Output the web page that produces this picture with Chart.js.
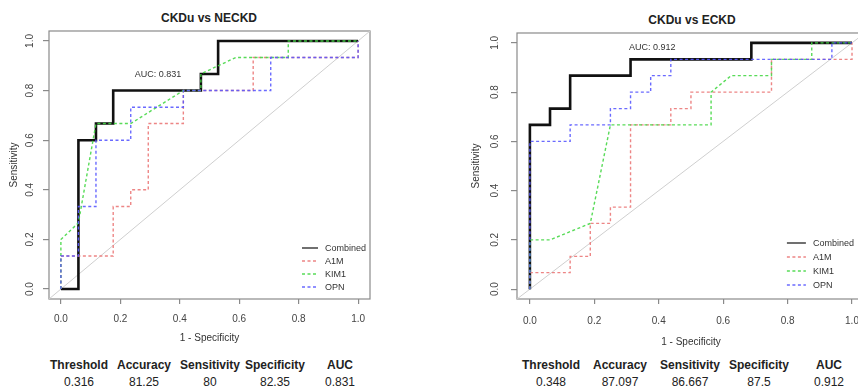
<!DOCTYPE html>
<html>
<head>
<meta charset="utf-8">
<script src="https://cdn.jsdelivr.net/npm/chart.js@4.4.0/dist/chart.umd.min.js"></script>
<style>
  html, body { margin: 0; padding: 0; background: #fff; overflow: hidden; width: 858px; height: 388px; }
  body { position: relative; font-family: "Liberation Sans", Arial, sans-serif; }
  .plot { position: absolute; top: 0; height: 350px; }
  .plot canvas { display: block; }
  .title { position: absolute; font-weight: bold; font-size: 12px; line-height: 14px; color: #222; transform: translateX(-50%); white-space: nowrap; }
  .cell { position: absolute; font-size: 12px; line-height: 14px; color: #222; transform: translateX(-50%); white-space: nowrap; }
  .cell.head { font-weight: bold; }
</style>
</head>
<body>
<div class="title" style="left:209px; top:11px;">CKDu vs NECKD</div>
<div class="title" style="left:692px; top:13px;">CKDu vs ECKD</div>
<div class="plot" style="left:0; width:380px;"><canvas id="roc-neckd" width="380" height="350"></canvas></div>
<div class="plot" style="left:470px; width:400px;"><canvas id="roc-eckd" width="400" height="350"></canvas></div>
<div id="stats"></div>

<script>
// ---- data: 1 - specificity (fpr) / sensitivity (tpr) ----

// CKDu vs NECKD
const neckdCombinedFpr = [0, 0.059, 0.059, 0.118, 0.118, 0.176, 0.176, 0.471, 0.471, 0.529, 0.529, 1];
const neckdCombinedTpr = [0, 0, 0.6, 0.6, 0.667, 0.667, 0.8, 0.8, 0.867, 0.867, 1, 1];
const neckdA1mFpr = [0, 0, 0.176, 0.176, 0.235, 0.235, 0.294, 0.294, 0.412, 0.412, 0.647, 0.647, 1, 1];
const neckdA1mTpr = [0, 0.133, 0.133, 0.333, 0.333, 0.4, 0.4, 0.667, 0.667, 0.8, 0.8, 0.933, 0.933, 1];
const neckdKim1Fpr = [0, 0, 0.059, 0.118, 0.235, 0.412, 0.471, 0.471, 0.588, 0.765, 0.765, 1];
const neckdKim1Tpr = [0, 0.2, 0.267, 0.667, 0.667, 0.8, 0.8, 0.867, 0.933, 0.933, 1, 1];
const neckdOpnFpr = [0, 0, 0.059, 0.059, 0.118, 0.118, 0.235, 0.235, 0.412, 0.412, 0.706, 0.706, 1, 1];
const neckdOpnTpr = [0, 0.133, 0.133, 0.333, 0.333, 0.6, 0.6, 0.733, 0.733, 0.8, 0.8, 0.933, 0.933, 1];

// CKDu vs ECKD
const eckdCombinedFpr = [0, 0, 0.0625, 0.0625, 0.125, 0.125, 0.3125, 0.3125, 0.6875, 0.6875, 1];
const eckdCombinedTpr = [0, 0.667, 0.667, 0.733, 0.733, 0.867, 0.867, 0.933, 0.933, 1, 1];
const eckdA1mFpr = [0, 0, 0.125, 0.125, 0.1875, 0.1875, 0.25, 0.25, 0.3125, 0.3125, 0.4375, 0.4375, 0.5, 0.5, 0.75, 0.75, 1, 1];
const eckdA1mTpr = [0, 0.067, 0.067, 0.133, 0.133, 0.267, 0.267, 0.333, 0.333, 0.667, 0.667, 0.733, 0.733, 0.8, 0.8, 0.933, 0.933, 1];
const eckdKim1Fpr = [0, 0, 0.0625, 0.1875, 0.25, 0.5625, 0.5625, 0.625, 0.75, 0.75, 0.875, 0.875, 1];
const eckdKim1Tpr = [0, 0.2, 0.2, 0.267, 0.667, 0.667, 0.8, 0.867, 0.867, 0.933, 0.933, 1, 1];
const eckdOpnFpr = [0, 0, 0.125, 0.125, 0.25, 0.25, 0.3125, 0.3125, 0.375, 0.375, 0.4375, 0.4375, 0.9375, 0.9375, 1];
const eckdOpnTpr = [0, 0.6, 0.6, 0.667, 0.667, 0.733, 0.733, 0.8, 0.8, 0.867, 0.867, 0.933, 0.933, 1, 1];

const seriesNames = ['Combined', 'A1M', 'KIM1', 'OPN'];
const axisTicks = [0, 0.2, 0.4, 0.6, 0.8, 1.0];
const refLine = [-0.04, 1.04];

const statHeaders = ['Threshold', 'Accuracy', 'Sensitivity', 'Specificity', 'AUC'];
const neckdStats = ['0.316', '81.25', '80', '82.35', '0.831'];
const eckdStats = ['0.348', '87.097', '86.667', '87.5', '0.912'];
const neckdAuc = 'AUC: 0.831';
const eckdAuc = 'AUC: 0.912';

// ---- styling ----
Chart.defaults.font.family = '"Liberation Sans", Arial, sans-serif';
Chart.defaults.color = '#444';

const styles = [
  { borderColor: '#111', borderWidth: 2.6, borderDash: [], order: 4, legendWidth: 1.2 },
  { borderColor: 'rgba(235,120,120,0.9)', borderWidth: 1.4, borderDash: [3, 2.5], order: 3, legendWidth: 1.3 },
  { borderColor: 'rgba(70,215,70,0.9)', borderWidth: 1.4, borderDash: [3, 2.5], order: 2, legendWidth: 1.3 },
  { borderColor: 'rgba(90,90,255,0.9)', borderWidth: 1.4, borderDash: [3, 2.5], order: 1, legendWidth: 1.3 }
];

const toPoints = (xs, ys) => xs.map((x, i) => ({ x, y: ys[i] }));

// box round the plot region, like R's box()
const plotBox = {
  id: 'plotBox',
  beforeDatasetsDraw(chart) {
    const { ctx, chartArea: a } = chart;
    ctx.save();
    ctx.strokeStyle = '#8a8a8a';
    ctx.lineWidth = 1.2;
    ctx.strokeRect(a.left, a.top, a.right - a.left, a.bottom - a.top);
    ctx.restore();
  }
};

// legend inside bottom-right of the plot
const rocLegend = {
  id: 'rocLegend',
  afterDatasetsDraw(chart, args, opts) {
    const { ctx, chartArea: a } = chart;
    const items = chart.data.datasets.filter(d => d.label);
    const x0 = a.right - opts.fromRight;
    ctx.save();
    ctx.font = '9px "Liberation Sans", Arial, sans-serif';
    ctx.textBaseline = 'middle';
    items.forEach((d, i) => {
      const y = a.bottom - opts.fromBottom - (items.length - 1 - i) * opts.rowH;
      ctx.strokeStyle = d.borderColor;
      ctx.lineWidth = d.legendWidth;
      ctx.setLineDash(d.borderDash || []);
      ctx.beginPath();
      ctx.moveTo(x0, y);
      ctx.lineTo(x0 + opts.lineLen, y);
      ctx.stroke();
      ctx.setLineDash([]);
      ctx.fillStyle = '#333';
      ctx.fillText(d.label, x0 + opts.lineLen + opts.gap, y + 0.5);
    });
    ctx.restore();
  }
};

// "AUC: x" note placed in data units
const aucNote = {
  id: 'aucNote',
  afterDatasetsDraw(chart, args, opts) {
    const { ctx, scales } = chart;
    ctx.save();
    ctx.font = '9px "Liberation Sans", Arial, sans-serif';
    ctx.fillStyle = '#333';
    ctx.textAlign = 'center';
    ctx.textBaseline = 'middle';
    ctx.fillText(opts.text, scales.x.getPixelForValue(opts.x), scales.y.getPixelForValue(opts.y));
    ctx.restore();
  }
};

function makeRoc(id, curves, cfg) {
  const datasets = curves.map((c, i) => ({
    label: seriesNames[i],
    data: toPoints(c[0], c[1]),
    showLine: true,
    pointRadius: 0,
    tension: 0,
    fill: false,
    ...styles[i]
  }));
  datasets.push({
    data: toPoints(refLine, refLine),
    showLine: true,
    pointRadius: 0,
    borderColor: '#cfcfcf',
    borderWidth: 1,
    order: 5
  });

  const tickFont = { size: 10 };
  return new Chart(document.getElementById(id), {
    type: 'scatter',
    data: { datasets },
    plugins: [plotBox, rocLegend, aucNote],
    options: {
      responsive: false,
      animation: false,
      events: [],
      layout: { padding: { top: cfg.top, right: cfg.right, left: 0, bottom: 0 } },
      plugins: {
        legend: { display: false },
        tooltip: { enabled: false },
        rocLegend: cfg.legend,
        aucNote: cfg.auc
      },
      scales: {
        x: {
          type: 'linear', min: -0.04, max: 1.04,
          afterBuildTicks: s => { s.ticks = axisTicks.map(v => ({ value: v })); },
          afterFit: s => { s.height = 51; },
          ticks: { font: tickFont, color: '#444', padding: cfg.xPad, maxRotation: 0, autoSkip: false, callback: v => v.toFixed(1) },
          grid: { drawOnChartArea: false, drawTicks: true, tickLength: 5, color: '#8a8a8a', lineWidth: 1.2 },
          border: { display: false },
          title: { display: true, text: '1 - Specificity', font: { size: 10 }, color: '#333', padding: { top: 0, bottom: cfg.xTitlePad } }
        },
        y: {
          type: 'linear', min: -0.04, max: 1.04,
          afterBuildTicks: s => { s.ticks = axisTicks.map(v => ({ value: v })); },
          afterFit: s => { s.width = cfg.yWidth; },
          ticks: { font: tickFont, color: '#444', padding: cfg.yPad, minRotation: 90, maxRotation: 90, crossAlign: 'center', autoSkip: false, callback: v => v.toFixed(1) },
          grid: { drawOnChartArea: false, drawTicks: true, tickLength: 6, color: '#8a8a8a', lineWidth: 1.2 },
          border: { display: false },
          title: { display: true, text: 'Sensitivity', font: { size: 10 }, color: '#333', padding: { top: cfg.yTitlePad, bottom: 0 } }
        }
      }
    }
  });
}

makeRoc('roc-neckd', [
  [neckdCombinedFpr, neckdCombinedTpr],
  [neckdA1mFpr, neckdA1mTpr],
  [neckdKim1Fpr, neckdKim1Tpr],
  [neckdOpnFpr, neckdOpnTpr]
], {
  top: 31, right: 10, yWidth: 49, xPad: 9, yPad: 6, xTitlePad: 6, yTitlePad: 8,
  legend: { fromRight: 68, fromBottom: 12, rowH: 13, lineLen: 16, gap: 7 },
  auc: { text: neckdAuc, x: 0.327, y: 0.863 }
});

makeRoc('roc-eckd', [
  [eckdCombinedFpr, eckdCombinedTpr],
  [eckdA1mFpr, eckdA1mTpr],
  [eckdKim1Fpr, eckdKim1Tpr],
  [eckdOpnFpr, eckdOpnTpr]
], {
  top: 33, right: 1, yWidth: 47, xPad: 11, yPad: 9, xTitlePad: 2, yTitlePad: 0,
  legend: { fromRight: 78, fromBottom: 14, rowH: 14, lineLen: 19, gap: 7 },
  auc: { text: eckdAuc, x: 0.38, y: 0.98 }
});

// stats table under each plot
const statCols = [
  { values: neckdStats, xs: [79, 144, 210, 275, 340] },
  { values: eckdStats, xs: [551, 620, 690, 759, 829] }
];
const statsEl = document.getElementById('stats');
statCols.forEach(col => {
  col.xs.forEach((x, i) => {
    statsEl.insertAdjacentHTML('beforeend',
      `<div class="cell head" style="left:${x}px; top:358px;">${statHeaders[i]}</div>` +
      `<div class="cell" style="left:${x}px; top:375px;">${col.values[i]}</div>`);
  });
});
</script>
</body>
</html>
